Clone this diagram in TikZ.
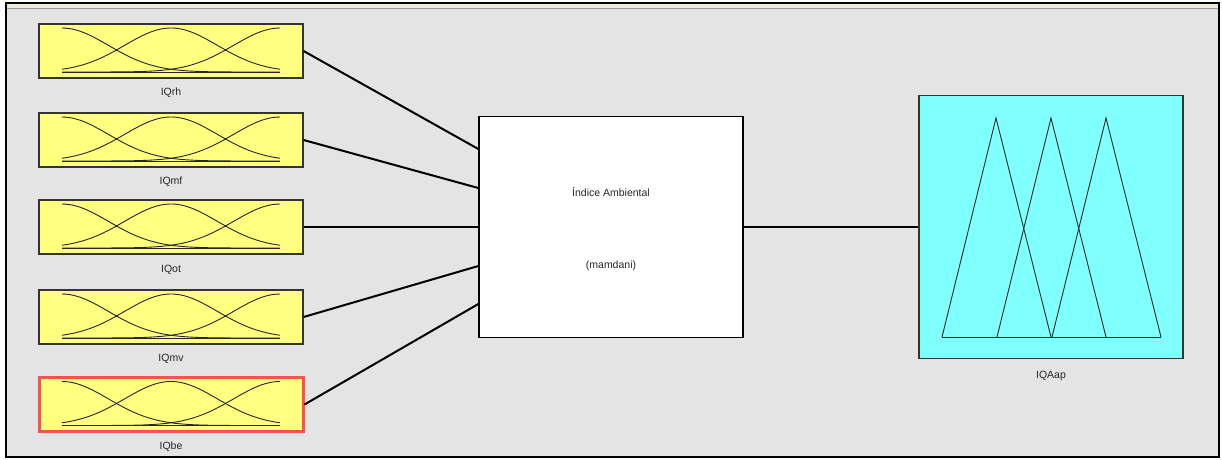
\documentclass[tikz,border=0pt]{standalone}
\usepackage{fontspec}
\setmainfont{Liberation Sans}
\usetikzlibrary{positioning}
\definecolor{panelgray}{HTML}{E4E4E4}
\definecolor{mfyellow}{HTML}{FFFF80}
\definecolor{mfcyan}{HTML}{80FFFF}
\definecolor{selred}{HTML}{FF5050}
\definecolor{stripbeige}{HTML}{EDEBD9}

\begin{document}
\begin{tikzpicture}[x=1pt,y=-1pt,
    declare function={gss(\t)=exp(-0.5*(\t)*(\t));},
    inbox/.style={draw=black!80,line width=1.2pt,fill=mfyellow,minimum width=264pt,minimum height=54pt,inner sep=0pt},
    fisbox/.style={draw=black,line width=1.4pt,fill=white,minimum width=264pt,minimum height=221pt,inner sep=0pt},
    outbox/.style={draw=black!80,line width=1.2pt,fill=mfcyan,minimum width=264pt,minimum height=263pt,inner sep=0pt},
    lbl/.style={font=\fontsize{10.5}{12}\selectfont,text=black!85,inner sep=0pt},
    conn/.style={line width=2pt},
    mfline/.style={line width=0.9pt,black!85}]
    % window
    \fill[white] (0,0) rectangle (1222,459);
    \fill[panelgray] (6,3) rectangle (1219,457);
    \fill[stripbeige] (7,4) rectangle (1218,8);
    \draw[black!40,line width=0.6pt] (7,8.5) -- (1218,8.5);
    \draw[line width=2pt] (6,3) rectangle (1219,457);
    % inputs
    \node[inbox] (in1) at (171,51) {};
    \node[inbox] (in2) at (171,140) {};
    \node[inbox] (in3) at (171,227) {};
    \node[inbox] (in4) at (171,317) {};
    \node[inbox,draw=selred,line width=3pt] (in5) at (171,404.5) {};
    \node[lbl,below=9pt of in1] (l1) {IQrh};
    \node[lbl,below=9pt of in2] (l2) {IQmf};
    \node[lbl,below=10pt of in3] (l3) {IQot};
    \node[lbl,below=9pt of in4] (l4) {IQmv};
    \node[lbl,below=9pt of in5] (l5) {IQbe};
    \foreach \i in {1,...,5}{
      \begin{scope}[shift={(in\i.center)}]
        \draw[mfline] (-109,21) -- (109,21);
        \draw[mfline] plot[domain=-109:109,samples=60] (\x,{21-44*gss((\x+109)/46.3)});
        \draw[mfline] plot[domain=-109:109,samples=60] (\x,{21-44*gss(\x/46.3)});
        \draw[mfline] plot[domain=-109:109,samples=60] (\x,{21-44*gss((\x-109)/46.3)});
      \end{scope}
    }
    % fis
    \node[fisbox] (fis) at (611,227) {};
    \node[lbl] (fname) at ([yshift=35pt]fis.center) {Índice Ambiental};
    \node[lbl] (ftype) at ([yshift=-39pt]fis.center) {(mamdani)};
    % output
    \node[outbox] (out) at (1051,227) {};
    \node[lbl,below=12pt of out] (lo) {IQAap};
    \begin{scope}[shift={(out.center)}]
      \draw[mfline] (-109,110) -- (110,110);
      \foreach \c in {-55,0,55}
        \draw[mfline] (\c-54,110) -- (\c,-109) -- (\c+55,110);
    \end{scope}
    % connectors
    \foreach \i/\s in {1/78,2/39,3/0,4/-39,5/-77}
      \draw[conn] (in\i.east) -- ([yshift=\s pt]fis.west);
    \draw[conn] (fis.east) -- (out.west);
\end{tikzpicture}
\end{document}
